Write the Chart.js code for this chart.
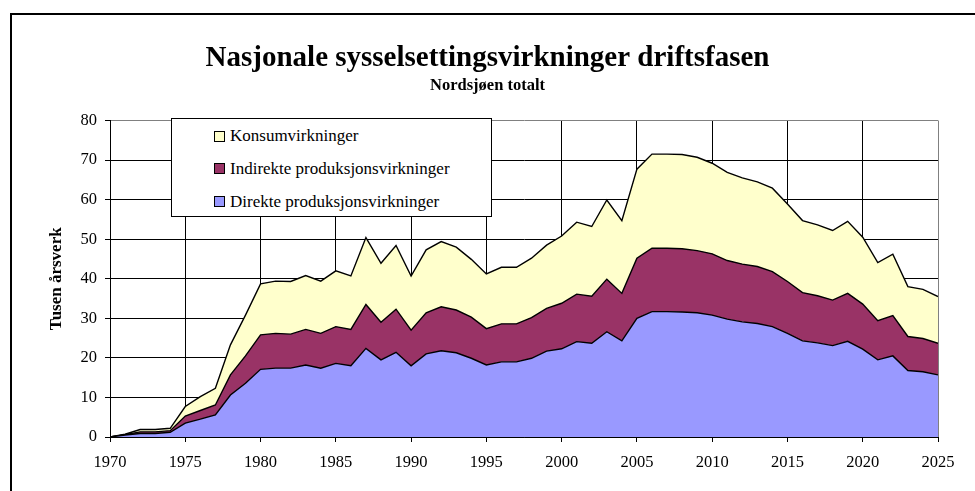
<!DOCTYPE html>
<html><head><meta charset="utf-8">
<script src="https://cdn.jsdelivr.net/npm/chart.js@4.4.1/dist/chart.umd.min.js"></script>
<style>
html,body{margin:0;padding:0;background:#fff;width:975px;height:491px;overflow:hidden;}
#frame{position:absolute;left:10px;top:13px;width:963px;height:476px;border-left:2px solid #000;border-top:2px solid #000;box-sizing:content-box;}
#wrap{position:absolute;left:0;top:0;width:975px;height:491px;}
#legend{position:absolute;left:171px;top:118px;width:319px;height:97px;border:1px solid #000;background:#fff;font-family:"Liberation Serif","Times New Roman",serif;font-size:17px;color:#000;}
.item{position:absolute;left:42px;height:20px;display:flex;align-items:center;white-space:nowrap;}
.sw{display:inline-block;width:9px;height:9px;border:1px solid #000;margin-right:5px;}
</style></head><body>
<div id="wrap"><canvas id="c" width="975" height="491"></canvas></div>
<div id="legend"></div>
<script>
const titleText = 'Nasjonale sysselsettingsvirkninger driftsfasen';
const subtitleText = 'Nordsjøen totalt';
const yAxisTitle = 'Tusen årsverk';
const years = [1970,1971,1972,1973,1974,1975,1976,1977,1978,1979,
  1980,1981,1982,1983,1984,1985,1986,1987,1988,1989,
  1990,1991,1992,1993,1994,1995,1996,1997,1998,1999,
  2000,2001,2002,2003,2004,2005,2006,2007,2008,2009,
  2010,2011,2012,2013,2014,2015,2016,2017,2018,2019,
  2020,2021,2022,2023,2024,2025];
const direkte = [0,0.5,0.9,0.9,1.2,3.5,4.5,5.6,10.6,13.6,
  17.1,17.4,17.4,18.2,17.4,18.6,18.0,22.4,19.5,21.4,
  18.0,21.0,21.8,21.3,19.9,18.2,19.0,19.0,19.9,21.7,
  22.3,24.1,23.7,26.6,24.3,30.0,31.7,31.7,31.6,31.4,
  30.8,29.8,29.1,28.7,27.9,26.2,24.3,23.8,23.1,24.2,
  22.2,19.5,20.5,16.8,16.5,15.7];
const indirekte = [0,0.1,0.4,0.4,0.4,1.8,2.2,2.5,5.1,6.9,
  8.7,8.8,8.6,9.0,8.8,9.3,9.2,11.1,9.5,10.9,
  9.0,10.4,11.1,10.8,10.4,9.2,9.6,9.6,10.3,10.8,
  11.5,12.0,11.9,13.3,12.0,15.2,16.0,16.0,16.0,15.7,
  15.5,14.8,14.6,14.4,13.9,13.1,12.2,11.9,11.5,12.1,
  11.4,9.9,10.2,8.6,8.4,8.0];
const konsum = [0,0.1,0.6,0.6,0.6,2.4,3.5,4.2,7.6,10.3,
  12.9,13.2,13.3,13.6,13.2,14.1,13.5,16.9,14.9,16.1,
  13.7,15.9,16.5,15.9,14.6,13.8,14.3,14.3,15.0,16.0,
  17.0,18.2,17.6,20.0,18.4,22.5,23.8,23.8,23.8,23.6,
  22.9,22.3,21.8,21.4,21.1,19.6,18.2,17.9,17.6,18.2,
  16.9,14.7,15.5,12.6,12.4,11.8];
const seriesLabels = ['Direkte produksjonsvirkninger','Indirekte produksjonsvirkninger','Konsumvirkninger'];
const seriesColors = ['#9999FF','#993366','#FFFFCC'];
const xTicks = [1970,1975,1980,1985,1990,1995,2000,2005,2010,2015,2020,2025];
const yTicks = [0,10,20,30,40,50,60,70,80];

const FONT = '"Liberation Serif","Times New Roman",serif';
const toPts = arr => arr.map((v,i)=>({x:years[i], y:v}));
const seriesData = [direkte, indirekte, konsum];
const datasets = seriesData.map((arr,i)=>({
  label: seriesLabels[i], data: toPts(arr),
  backgroundColor: seriesColors[i], borderColor:'#000', borderWidth:1.4,
  fill: i===0 ? 'origin' : '-1', pointRadius:0, tension:0
}));

// outer frame drawn on the canvas (top and left edges only)
const framePlugin = {
  id:'frame',
  beforeDraw(chart){
    const ctx = chart.ctx;
    ctx.save();
    ctx.fillStyle = '#000';
    ctx.fillRect(10, 13, chart.width - 10, 2);
    ctx.fillRect(10, 13, 2, chart.height - 13);
    ctx.restore();
  }
};

const chart = new Chart(document.getElementById('c'), {
  type:'line',
  data:{datasets},
  plugins:[framePlugin],
  options:{
    responsive:false, animation:false, devicePixelRatio:1,
    layout:{padding:{left:37,right:37,top:0,bottom:0}},
    plugins:{
      legend:{display:false}, tooltip:{enabled:false},
      title:{display:true,text:titleText,color:'#000',font:{family:FONT,size:29,weight:'bold',lineHeight:1},padding:{top:44.5,bottom:0}},
      subtitle:{display:true,text:subtitleText,color:'#000',font:{family:FONT,size:16.5,weight:'bold',lineHeight:1},padding:{top:3.5,bottom:27}}
    },
    scales:{
      x:{type:'linear',min:xTicks[0],max:xTicks[xTicks.length-1],
        afterBuildTicks:s=>{s.ticks=xTicks.map(v=>({value:v}));},
        afterFit:s=>{s.height=54;},
        grid:{color:c=>(c.tick&&c.tick.value===2025)?'#808080':'#000',lineWidth:1,drawTicks:true,tickLength:5,tickColor:'#000'},
        border:{display:true,color:'#000',width:1},
        ticks:{color:'#000',font:{family:FONT,size:16.5},padding:11,maxRotation:0,autoSkip:false,callback:v=>String(v)}
      },
      y:{stacked:true,min:yTicks[0],max:yTicks[yTicks.length-1],
        afterBuildTicks:s=>{s.ticks=yTicks.map(v=>({value:v}));},
        afterFit:s=>{s.width=73;},
        grid:{color:c=>(c.tick&&c.tick.value===80)?'#808080':'#000',lineWidth:1,drawTicks:true,tickLength:5,tickColor:'#000'},
        border:{display:true,color:'#000',width:1},
        ticks:{color:'#000',font:{family:FONT,size:16.5},padding:8,callback:v=>String(v)},
        title:{display:true,text:yAxisTitle,color:'#000',font:{family:FONT,size:17,weight:'bold'},padding:{top:9.8,bottom:0}}
      }
    }
  }
});

// HTML legend built from the datasets (top series first)
const lg = document.getElementById('legend');
const tops = [7, 39.5, 72.5];
chart.data.datasets.slice().reverse().forEach((ds,i)=>{
  const it = document.createElement('div');
  it.className='item'; it.style.top = tops[i]+'px';
  const sw = document.createElement('span'); sw.className='sw'; sw.style.background = ds.backgroundColor;
  const tx = document.createElement('span'); tx.textContent = ds.label;
  it.appendChild(sw); it.appendChild(tx); lg.appendChild(it);
});
</script>
</body></html>
